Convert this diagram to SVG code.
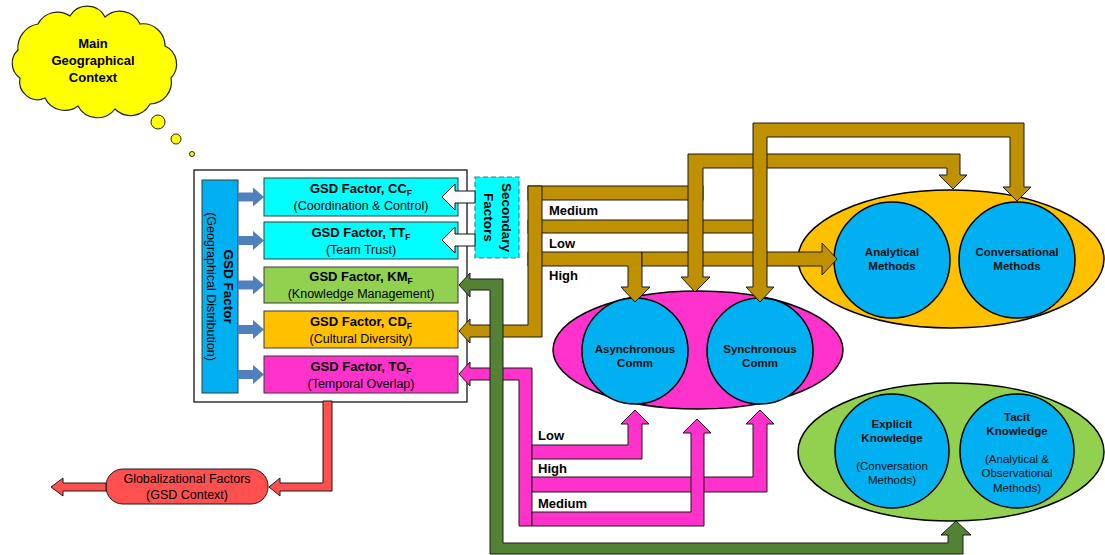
<svg xmlns="http://www.w3.org/2000/svg" width="1105" height="555" viewBox="0 0 1105 555">
<style>
text{font-family:"Liberation Sans",Arial,sans-serif;fill:#000}
.b{font-weight:bold}
.fbox{stroke:#3a3a3a;stroke-width:1}
.t13{font-size:13px;font-weight:bold}
.t12{font-size:12.5px}
.sub{font-size:8.5px}
.gold{fill:#BF9000;stroke:#1a1a1a;stroke-width:1}
.pink{fill:#FF33CC;stroke:#1a1a1a;stroke-width:1}
.green{fill:#548235;stroke:#1a1a1a;stroke-width:1}
.red{fill:#FF5050;stroke:#1a1a1a;stroke-width:1}
.blu{fill:#4F81BD}
.wh{fill:#fff;stroke:#111;stroke-width:1}
.circ{fill:#00B0F0;stroke:#000;stroke-width:1.5}
.ell{stroke:#000;stroke-width:1.5}
.ct{font-size:11.5px;font-weight:bold;fill:#111}
.cr{font-size:11.5px;fill:#111}
.lab{font-size:13px;font-weight:bold}
</style>

<g id="cloud">
<path d="M20,78 A18,18 0 0 1 18,50 A24,24 0 0 1 38,24 A22,22 0 0 1 70,16 A20,20 0 0 1 105,17 A22,22 0 0 1 140,24 A22,22 0 0 1 165,46 A20,20 0 0 1 171,78 A22,22 0 0 1 150,104 A22,22 0 0 1 115,109 A22,22 0 0 1 78,106 A22,22 0 0 1 45,98 A18,18 0 0 1 20,78 Z" fill="#FFFF00" stroke="#222" stroke-width="1.2"/>
<circle cx="158" cy="122" r="7" fill="#FFFF00" stroke="#222" stroke-width="1"/>
<circle cx="176" cy="139" r="5" fill="#FFFF00" stroke="#222" stroke-width="1"/>
<circle cx="192" cy="154" r="2.5" fill="#FFFF00" stroke="#222" stroke-width="1"/>
<text class="b" font-size="13" text-anchor="middle"><tspan x="93" y="48">Main</tspan><tspan x="93" y="65">Geographical</tspan><tspan x="93" y="82">Context</tspan></text>
</g>

<g id="gsd-frame">
<rect x="194" y="170" width="273" height="232" fill="#fff" stroke="#000" stroke-width="1.2"/>
</g>

<g id="gsd-factor">
<rect x="202" y="180" width="36" height="213" fill="#00B0F0" stroke="#3a3a3a" stroke-width="1"/>
<text transform="translate(220,286.5) rotate(90)" text-anchor="middle"><tspan class="b" font-size="13.5" x="0" y="-4">GSD Factor</tspan><tspan font-size="12.5" x="0" y="13.5">(Geographical Distribution)</tspan></text>
</g>

<g id="blue-arrows">
<path class="blu" d="M238,192.5 H253 V187.5 L264,197 L253,206.5 V201.5 H238 Z"/>
<path class="blu" d="M238,236 H253 V231 L264,240.5 L253,250 V245 H238 Z"/>
<path class="blu" d="M238,280.5 H253 V275.5 L264,285 L253,294.5 V289.5 H238 Z"/>
<path class="blu" d="M238,325 H253 V320 L264,329.5 L253,339 V334 H238 Z"/>
<path class="blu" d="M238,370 H253 V365 L264,374.5 L253,384 V379 H238 Z"/>
</g>

<g id="factor-cc">
<rect class="fbox" x="264" y="178" width="194" height="38" fill="#00FFFF"/>
<text text-anchor="middle"><tspan class="t13" x="361" y="193">GSD Factor, CC<tspan class="sub" dy="3">F</tspan></tspan><tspan class="t12" x="361" y="210">(Coordination &amp; Control)</tspan></text>
</g>
<g id="factor-tt">
<rect class="fbox" x="264" y="222" width="194" height="37" fill="#00FFFF"/>
<text text-anchor="middle"><tspan class="t13" x="361" y="237">GSD Factor, TT<tspan class="sub" dy="3">F</tspan></tspan><tspan class="t12" x="361" y="254">(Team Trust)</tspan></text>
</g>
<g id="factor-km">
<rect class="fbox" x="264" y="267" width="194" height="36" fill="#92D050"/>
<text text-anchor="middle"><tspan class="t13" x="361" y="281">GSD Factor, KM<tspan class="sub" dy="3">F</tspan></tspan><tspan class="t12" x="361" y="298">(Knowledge Management)</tspan></text>
</g>
<g id="factor-cd">
<rect class="fbox" x="264" y="311" width="194" height="37" fill="#FFC000"/>
<text text-anchor="middle"><tspan class="t13" x="361" y="326">GSD Factor, CD<tspan class="sub" dy="3">F</tspan></tspan><tspan class="t12" x="361" y="343">(Cultural Diversity)</tspan></text>
</g>
<g id="factor-to">
<rect class="fbox" x="264" y="356" width="194" height="37" fill="#FF33CC"/>
<text text-anchor="middle"><tspan class="t13" x="361" y="371">GSD Factor, TO<tspan class="sub" dy="3">F</tspan></tspan><tspan class="t12" x="361" y="388">(Temporal Overlap)</tspan></text>
</g>

<g id="secondary-factors">
<rect x="475" y="177" width="44" height="81" fill="#00FFFF" stroke="#31859C" stroke-width="1.2" stroke-dasharray="5 3"/>
<text transform="translate(497,217.5) rotate(90)" text-anchor="middle" class="b" font-size="13.5"><tspan x="0" y="-5">Secondary</tspan><tspan x="0" y="13">Factors</tspan></text>
</g>

<g id="ellipse-comm">
<ellipse class="ell" cx="698" cy="350" rx="145" ry="59" fill="#FF33CC"/>
<circle class="circ" cx="635" cy="351" r="53"/>
<circle class="circ" cx="760" cy="351" r="53"/>
<text text-anchor="middle" class="ct"><tspan x="635" y="353">Asynchronous</tspan><tspan x="635" y="367">Comm</tspan></text>
<text text-anchor="middle" class="ct"><tspan x="760" y="353">Synchronous</tspan><tspan x="760" y="367">Comm</tspan></text>
</g>

<g id="ellipse-methods">
<ellipse class="ell" cx="951" cy="259" rx="153" ry="69" fill="#FFC000"/>
<circle class="circ" cx="892" cy="260" r="58"/>
<circle class="circ" cx="1017" cy="260" r="58"/>
<text text-anchor="middle" class="ct"><tspan x="892" y="256">Analytical</tspan><tspan x="892" y="270">Methods</tspan></text>
<text text-anchor="middle" class="ct"><tspan x="1017" y="256">Conversational</tspan><tspan x="1017" y="270">Methods</tspan></text>
</g>

<g id="ellipse-knowledge">
<ellipse class="ell" cx="951" cy="452" rx="153" ry="69" fill="#92D050"/>
<circle class="circ" cx="892" cy="451" r="57"/>
<circle class="circ" cx="1017" cy="451" r="57"/>
<text text-anchor="middle"><tspan class="ct" x="892" y="428">Explicit</tspan><tspan class="ct" x="892" y="442">Knowledge</tspan><tspan class="cr" x="892" y="470">(Conversation</tspan><tspan class="cr" x="892" y="484">Methods)</tspan></text>
<text text-anchor="middle"><tspan class="ct" x="1017" y="421">Tacit</tspan><tspan class="ct" x="1017" y="435">Knowledge</tspan><tspan class="cr" x="1017" y="463">(Analytical &amp;</tspan><tspan class="cr" x="1017" y="477">Observational</tspan><tspan class="cr" x="1017" y="492">Methods)</tspan></text>
</g>

<g id="globalizational">
<rect x="106" y="469" width="162" height="35" rx="17" fill="#FF5050" stroke="#1a1a1a" stroke-width="1"/>
<text text-anchor="middle" font-size="12.5"><tspan x="187" y="483">Globalizational Factors</tspan><tspan x="187" y="499">(GSD Context)</tspan></text>
</g>

<g id="connectors">
<!-- secondary factor arrows -->
<path class="wh" d="M475,191 H455 V184 L442,197 L455,210 V203 H475 Z"/>
<path class="wh" d="M475,234 H455 V227 L442,240 L455,253 V246 H475 Z"/>
<!-- gold -->
<rect class="gold" x="528" y="220" width="232" height="13"/>
<path class="gold" d="M528,252 H642 V287 H650 L635,302 L621,287 H628 V266 H528 Z"/>
<path class="gold" d="M642,252 H822 V243 L837,259 L822,275 V266 H642 Z"/>
<rect class="gold" x="528" y="186" width="175" height="14"/>
<path class="gold" d="M688,154 H960 V175 H967 L953,189 L939,175 H947 V168 H703 V277 H710 L695,292 L681,277 H688 Z"/>
<path class="gold" d="M753,123 H1024 V187 H1031 L1017,201 L1003,187 H1010 V137 H767 V287 H774 L760,302 L746,287 H753 Z"/>
<path class="gold" d="M528,186 H542 V337 H470 V343 L459,331 L470,319 V325 H528 Z"/>
<text class="lab" x="549" y="215">Medium</text>
<text class="lab" x="549" y="248">Low</text>
<text class="lab" x="549" y="280">High</text>
<!-- pink -->
<path class="pink" d="M532,368 V526 H519 V380 H470 V386 L459,374 L470,362 V368 Z"/>
<path class="pink" d="M532,445 H628 V424 H621 L635,410 L649,424 H642 V459 H532 Z"/>
<path class="pink" d="M532,477 H753 V424 H746 L760,410 L774,424 H767 V492 H532 Z"/>
<path class="pink" d="M532,512 H691 V433 H683 L697,419 L711,433 H704 V526 H532 Z"/>
<text class="lab" x="538" y="440">Low</text>
<text class="lab" x="538" y="473">High</text>
<text class="lab" x="538" y="508">Medium</text>
<!-- green -->
<path class="green" d="M490,279 H503 V543 H948 V535 H941 L956,521 L971,535 H963 V554 H490 V290 H470 V297 L459,285 L470,273 V279 Z"/>
<!-- red -->
<path class="red" d="M323,401 H332 V491 H280 V496 L269,487 L280,478 V483 H323 Z"/>
<path class="red" d="M106,483 H63 V478 L51,487 L63,496 V491 H106 Z"/>
</g>
</svg>
